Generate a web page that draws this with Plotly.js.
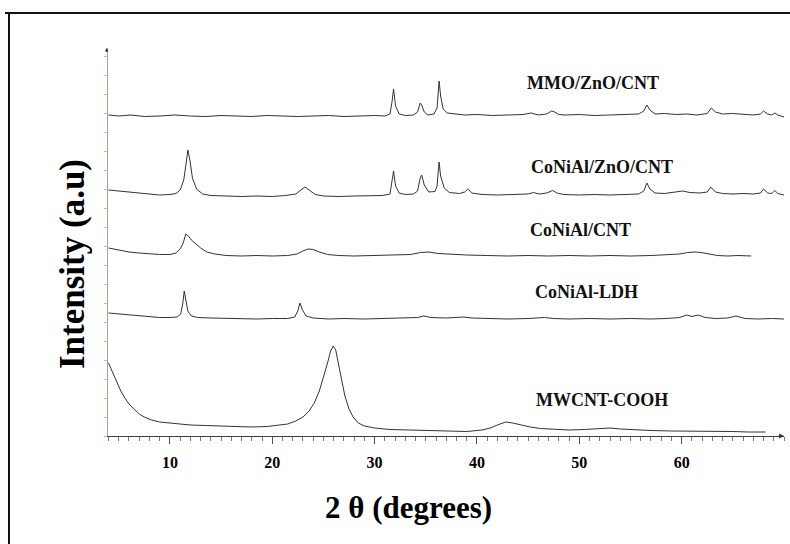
<!DOCTYPE html>
<html>
<head>
<meta charset="utf-8">
<script src="https://cdn.plot.ly/plotly-3.0.1.min.js"></script>
<style>
html,body{margin:0;padding:0;background:#fff;}
#chart{width:790px;height:544px;}
</style>
</head>
<body>
<div id="chart"></div>
<script>
// 2θ (degrees) vs stacked intensity (a.u.)
const seriesNames = ["MMO/ZnO/CNT", "CoNiAl/ZnO/CNT", "CoNiAl/CNT", "CoNiAl-LDH", "MWCNT-COOH"];

const mmo = [[4,321],[5,320],[6.2,321],[7.5,319.5],[9,320],[10.5,321],[12,320],[13.5,319.5],[15,320.5],[16.5,320],[18,319.5],[19.5,320.5],[21,320],[22.5,319.5],[24,320],[25.5,320.5],[27,319.5],[28.5,320],[30,320.5],[31.0,320],[31.5,322],[31.7,334],[31.85,347],[32.05,330],[32.4,322],[33,320.5],[33.8,321],[34.2,324],[34.45,333],[34.6,331],[34.85,324],[35.2,321],[35.8,322],[36.1,328],[36.3,355],[36.45,340],[36.7,327],[37.1,323],[37.8,322],[38.8,321],[40,321.5],[41.5,320.5],[43,321],[44.5,321.5],[45.3,323],[45.6,322],[46.0,321],[46.8,322],[47.3,325],[47.6,324],[48.0,321.5],[48.6,321],[50,321.5],[51.5,320.5],[53,321],[54.5,321.5],[55.8,322],[56.3,325],[56.6,331],[56.9,326],[57.4,322],[58.3,322.5],[59.5,321.5],[60.5,322],[61.5,321],[62.5,322.5],[62.9,328],[63.3,324],[64,322],[65,322.5],[66,321.5],[67,321],[67.7,322],[68.0,325],[68.4,322],[68.8,321],[69.1,323],[69.4,321],[69.7,320],[70,319]];

const coZnO = [[4,246],[5,245],[6,243.5],[7,242.5],[8,241.5],[9,241],[10,241.5],[10.6,242.5],[11.0,246],[11.35,256],[11.6,274],[11.75,286],[11.95,276],[12.2,258],[12.6,247],[13.2,242],[14,240.5],[15.5,240],[17,239.5],[18.5,240],[20,239.5],[21.3,240.5],[22.3,242],[22.8,246],[23.2,249],[23.6,246],[24.2,241.5],[25,240],[26.5,239.5],[28,240],[29.5,240.5],[30.8,240.5],[31.5,242],[31.7,255],[31.85,265],[32.05,250],[32.4,243],[33,241.5],[33.8,242],[34.2,245],[34.45,258],[34.6,261],[34.85,251],[35.3,244],[35.9,244.5],[36.1,250],[36.3,274],[36.45,260],[36.8,248],[37.3,243.5],[38.3,242.5],[38.8,244],[39.1,247],[39.5,243],[40.5,241.5],[42,241],[43.5,241.5],[45,242],[45.5,243.5],[46.1,242],[46.8,243],[47.4,245.5],[47.8,243],[48.5,241.5],[50,241],[51.5,241.5],[53,241],[54.5,241.5],[55.8,242],[56.3,245],[56.6,253],[56.9,247],[57.4,243],[58.3,242.5],[59.3,243.5],[60.1,245],[60.8,243.5],[61.8,243],[62.5,244],[62.85,249],[63.3,244],[64,242.5],[65,242],[66,242.5],[67,242],[67.7,243],[68.0,247],[68.4,243],[68.8,242.5],[69.1,245.5],[69.4,242.5],[69.7,241.5],[70,241]];

const coCNT = [[4,188],[5,186],[6,184],[7,183],[8,182],[9,181.5],[10,181.5],[10.6,183],[11.0,187],[11.3,193],[11.55,202],[11.8,200],[12.1,196],[12.5,192],[13.0,188],[13.6,184],[14.4,182],[15.5,180.5],[17,180],[18.5,180.5],[20,180],[21.5,180.5],[22.4,182],[23.0,185],[23.5,187],[24.0,186.5],[24.6,184],[25.4,181.5],[26.5,180.5],[28,180],[30,180.5],[32,180.5],[33.5,181.5],[34.5,183.5],[35.3,184],[36.2,182.5],[37.5,181.5],[39,181],[41,180.5],[43,180],[45,180.5],[47,180],[49,180.5],[51,180],[53,180.5],[55,180],[57,180.5],[58.5,181],[59.8,182],[60.6,183.5],[61.3,184],[61.9,183.5],[62.6,182],[63.5,180.5],[64.5,180],[65.5,180.5],[66.8,180]];

const ldh = [[4,123],[5,122],[6,121],[7,120],[8,119.5],[9,118.5],[10,118.5],[10.7,119],[11.05,122],[11.25,132],[11.4,145],[11.55,136],[11.75,125],[12.1,120],[12.7,118.5],[14,118],[15.5,117.5],[17,117.5],[18.5,117],[20,117.5],[21.5,117.5],[22.2,119],[22.5,125],[22.7,133],[22.95,126],[23.3,120],[24,118],[25.5,117],[27,117.5],[29,117],[31,117.5],[33,117.5],[34.2,118.5],[34.8,120],[35.5,118.5],[37,118],[38.7,119],[39.5,118],[41,117.5],[43,117],[45,117.5],[46.6,118.5],[47.5,117.5],[49,117],[51,117.5],[53,117],[55,117.5],[57,117],[58.5,117.5],[59.8,118.5],[60.5,121],[61.0,119.5],[61.6,121],[62.3,118.5],[63.3,117.5],[64.5,118],[65.3,120],[66.2,117.5],[67.5,117],[68.8,117.5],[70,117]];

const mwcnt = [[4,73],[4.4,63],[4.8,55],[5.2,45],[5.6,38],[6.0,32],[6.5,27],[7.0,22],[7.5,19],[8.2,16],[9,14],[10,13],[11,12],[12,11],[13.5,10.5],[15,10],[16.5,9],[18,9],[19.5,9.5],[20.5,10.5],[21.5,12],[22.3,15],[23.0,19],[23.6,25],[24.1,33],[24.6,45],[25.0,58],[25.4,73],[25.7,85],[25.95,90],[26.2,86],[26.5,72],[26.8,55],[27.1,40],[27.5,27],[27.9,19],[28.4,13],[29,10],[30,8],[31.5,6.5],[33,6],[35,5.5],[37,5],[39,4.5],[40.5,6],[41.3,8],[42.0,11],[42.8,14],[43.5,13],[44.3,11],[45.2,9],[46.2,7.5],[47.5,6.5],[49,6],[50.5,6.5],[52,7.5],[53,8],[54,7],[55.5,6],[57,5.5],[59,5],[61,5],[63,4.5],[65,4.5],[66.5,4],[68.2,4]];

const xTickVals = [10, 20, 30, 40, 50, 60];
const xTickText = ["10", "20", "30", "40", "50", "60"];
const labelX = [51.3, 52.2, 50.1, 50.7, 52.2];
const labelY = [353, 269, 206, 144, 36];

const allSeries = [mmo, coZnO, coCNT, ldh, mwcnt];

const L = 108, R = 6, T = 48, B = 108;
const W = 790 - L - R, H = 544 - T - B;
const px2paperX = px => (px - L) / W;
const py2paperY = py => (544 - B - py) / H;

const traces = allSeries.map((s, i) => ({
  type: 'scatter', mode: 'lines', name: seriesNames[i],
  x: s.map(p => p[0]), y: s.map(p => p[1]),
  line: {color: '#333', width: 1}, hoverinfo: 'skip'
}));

const serif = 'Liberation Serif, Times New Roman, serif';
const annotations = seriesNames.map((n, i) => ({
  x: labelX[i], y: labelY[i], xref: 'x', yref: 'y', text: n, showarrow: false,
  xanchor: 'center', yanchor: 'middle',
  font: {family: serif, size: 18, color: '#111', weight: 'bold'}
}));
annotations.push({
  xref: 'paper', yref: 'paper', x: px2paperX(408), y: py2paperY(507),
  xanchor: 'center', yanchor: 'middle',
  text: '2 θ (degrees)', showarrow: false,
  font: {family: serif, size: 31, color: '#000', weight: 'bold'}
});
annotations.push({
  xref: 'paper', yref: 'paper', x: px2paperX(72), y: py2paperY(264),
  xanchor: 'center', yanchor: 'middle',
  text: 'Intensity (a.u)', textangle: -90, showarrow: false,
  font: {family: serif, size: 35, color: '#000', weight: 'bold'}
});
// arrow at end of x axis
annotations.push({x: 70, y: 0, xref: 'x', yref: 'y', ax: -7, ay: 0, text: '', showarrow: true,
  arrowhead: 2, arrowsize: 0.8, arrowwidth: 1.2, arrowcolor: '#333'});
// tip at top of y axis
annotations.push({xref: 'paper', yref: 'paper', x: -0.002, y: 1, ax: 0, ay: 5, text: '', showarrow: true,
  arrowhead: 2, arrowsize: 0.6, arrowwidth: 1.2, arrowcolor: '#333'});

const shapes = [
  {type: 'line', xref: 'paper', yref: 'paper', x0: px2paperX(5), x1: px2paperX(792), y0: py2paperY(13), y1: py2paperY(13), line: {color: '#111', width: 2}},
  {type: 'line', xref: 'paper', yref: 'paper', x0: px2paperX(9), x1: px2paperX(9), y0: py2paperY(13), y1: py2paperY(546), line: {color: '#111', width: 2}}
];

const layout = {
  width: 790, height: 544,
  margin: {l: L, r: R, t: T, b: B, pad: 0},
  paper_bgcolor: '#fff', plot_bgcolor: '#fff',
  showlegend: false,
  xaxis: {
    range: [3.95, 70], showgrid: false, zeroline: false,
    showline: true, linecolor: '#444', linewidth: 1.2,
    ticks: 'outside', ticklen: 7, tickwidth: 1, tickcolor: '#555',
    tickmode: 'array', tickvals: xTickVals, ticktext: xTickText,
    ticklabelstandoff: 5,
    tickfont: {family: serif, size: 16, color: '#000', weight: 'bold'},
    minor: {tickmode: 'linear', tick0: 0, dtick: 1, ticks: 'outside', ticklen: 4, tickcolor: '#777', tickwidth: 1, showgrid: false}
  },
  yaxis: {
    range: [0, 388], showgrid: false, zeroline: false,
    showline: true, linecolor: '#8cb47c', linewidth: 1.5,
    ticks: 'outside', ticklen: 3, tickcolor: '#c0b4c8', dtick: 19, tick0: 0,
    showticklabels: false
  },
  annotations: annotations,
  shapes: shapes
};

Plotly.newPlot('chart', traces, layout, {displayModeBar: false, staticPlot: true});
</script>
</body>
</html>
